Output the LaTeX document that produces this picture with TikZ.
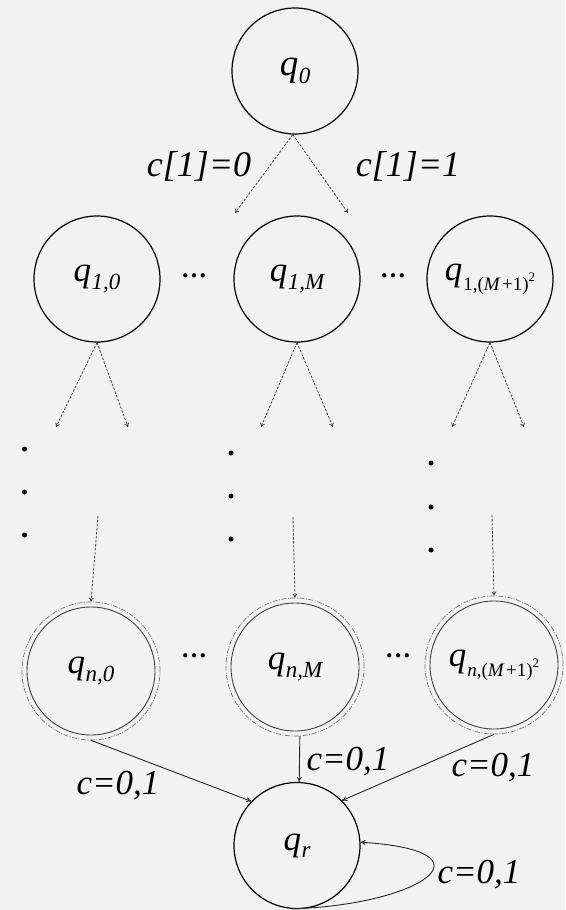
\documentclass[tikz,border=0pt]{standalone}
\usepackage{fontspec}
\setmainfont{Liberation Serif}
\usetikzlibrary{arrows.meta}
\newcommand{\qsub}[1]{\textit{q}\kern0.5pt\raisebox{-7.5pt}{\fontsize{23}{23}\selectfont\itshape #1}}
\newcommand{\qbig}[1]{\textit{q}\kern1pt\raisebox{-10pt}{\fontsize{19}{19}\selectfont #1,(\textit{M}\kern1.5pt+1)\raisebox{9pt}{\fontsize{13}{13}\selectfont 2}}}
\begin{document}
\begin{tikzpicture}[x=1pt,y=-1pt,
  every node/.style={font=\fontsize{35}{35}\selectfont},
  state/.style={circle,draw,line width=1.2pt,minimum size=126pt,inner sep=0pt},
  fstate/.style={circle,draw=black!75,line width=0.9pt,minimum size=128pt,inner sep=0pt},
  ring/.style={circle,draw=black!55,line width=0.7pt,dash pattern=on 5pt off 1.5pt on 1pt off 1.5pt,minimum size=138pt,inner sep=0pt},
  dasharrow/.style={draw=black!75,line width=0.8pt,dash pattern=on 2.5pt off 1.5pt,-{To[length=4pt,width=5pt]}},
  solidarrow/.style={draw=black!85,line width=0.9pt,-{To[length=5pt,width=5pt]}},
  lab/.style={font=\fontsize{36}{36}\selectfont\itshape,inner sep=0pt},
  clab/.style={font=\fontsize{35}{35}\selectfont\itshape,inner sep=0pt},
  hdots/.style={font=\fontsize{26}{26}\selectfont\bfseries,inner sep=0pt},
  vdot/.style={circle,fill=black,minimum size=5pt,inner sep=0pt}]
\fill[black!5] (0,0) rectangle (565,910);
\useasboundingbox (0,0) rectangle (565,910);
% top
\node[state,font=\fontsize{37}{37}\selectfont] (q0) at (295,71) {\qsub{0}};
\coordinate (e1) at (235,213);
\coordinate (e2) at (348,213);
\draw[dasharrow] (q0.-92) -- (e1);
\draw[dasharrow] (q0.-92) -- (e2);
\node[lab] (l1) at (199,166) {c[1]=0};
\node[lab] (l2) at (408,166) {c[1]=1};
% row 1
\node[state] (a0) at (97,279) {\qsub{1,0}};
\node[state] (aM) at (297,279) {\qsub{1,M}};
\node[state] (aK) at (490,279) {\qbig{1}};
\node[hdots] (h1) at (194,276) {…};
\node[hdots] (h2) at (393,276) {…};
\coordinate (b1) at (56,427);
\coordinate (b2) at (128,427);
\coordinate (b3) at (261,427);
\coordinate (b4) at (333,427);
\coordinate (b5) at (452,427);
\coordinate (b6) at (524,427);
\draw[dasharrow] (a0.south) -- (b1);
\draw[dasharrow] (a0.south) -- (b2);
\draw[dasharrow] (aM.south) -- (b3);
\draw[dasharrow] (aM.south) -- (b4);
\draw[dasharrow] (aK.south) -- (b5);
\draw[dasharrow] (aK.south) -- (b6);
% vertical dots
\node[vdot] (d11) at (24.5,449) {};
\node[vdot] (d12) at (24.5,492) {};
\node[vdot] (d13) at (24.5,535) {};
\node[vdot] (d21) at (231,453) {};
\node[vdot] (d22) at (231,496) {};
\node[vdot] (d23) at (231,539) {};
\node[vdot] (d31) at (431,463) {};
\node[vdot] (d32) at (431,507) {};
\node[vdot] (d33) at (431,550) {};
% row n
\node[fstate] (n0) at (91,671) {\qsub{n,0}};
\node[fstate] (nM) at (295,667) {\qsub{n,M}};
\node[fstate] (nK) at (494,665) {\qbig{\textit{n}}};
\node[ring] (r0) at (91,671) {};
\node[ring] (rM) at (295,667) {};
\node[ring] (rK) at (494,665) {};
\node[hdots] (h3) at (194,656) {…};
\node[hdots] (h4) at (398,656) {…};
\coordinate (s1) at (98,516);
\coordinate (s2) at (293,517);
\coordinate (s3) at (492,515);
\draw[dasharrow] (s1) -- (r0.north);
\draw[dasharrow] (s2) -- (rM.north);
\draw[dasharrow] (s3) -- (rK.north);
% qr
\node[state] (qr) at (297,845.5) {\qsub{r}};
\draw[solidarrow] (r0.south) -- (qr.136);
\draw[solidarrow] (rM.-86) -- (qr.88);
\draw[solidarrow] (rK.south) -- (qr.45);
\draw[solidarrow] (qr.265) .. controls (420,905) and (500,851) .. (qr.3);
\node[clab] (c1) at (118,786) {c=0,1};
\node[clab] (c2) at (348,762) {c=0,1};
\node[clab] (c3) at (493,768) {c=0,1};
\node[clab] (c4) at (479,875) {c=0,1};
\end{tikzpicture}
\end{document}
